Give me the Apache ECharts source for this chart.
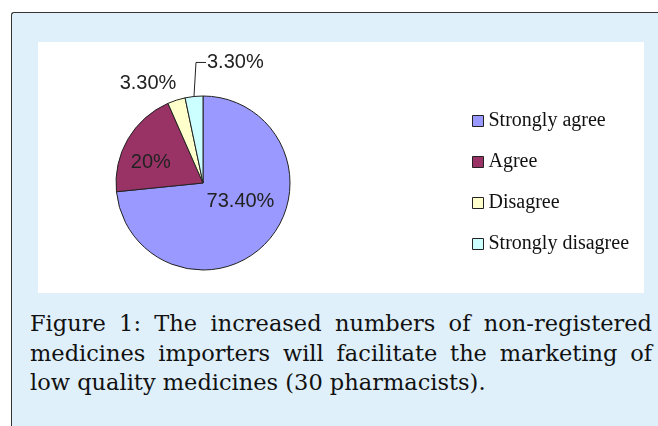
<!DOCTYPE html>
<html>
<head>
<meta charset="utf-8">
<script src="https://cdn.jsdelivr.net/npm/echarts@6/dist/echarts.min.js"></script>
<style>
  html, body { margin: 0; padding: 0; background: #fff; }
  body { width: 658px; height: 426px; position: relative; overflow: hidden; }
  .panel {
    position: absolute; left: 11px; top: 12px; width: 680px; height: 440px;
    background: #dff0fa; border-left: 1px solid #333; border-top: 1px solid #333;
    border-top-left-radius: 3px;
  }
  #chart { position: absolute; left: 38px; top: 42px; width: 606px; height: 251px; background: #fff; }
  .caption {
    position: absolute; left: 30px; top: 309px; width: 622px;
    font-family: "DejaVu Serif", serif; font-size: 22.5px; line-height: 29.5px; color: #111;
  }
  .caption .j { text-align: justify; text-align-last: justify; }
</style>
</head>
<body>
<div class="panel"></div>
<div id="chart"></div>
<div class="caption">
  <div class="j">Figure 1: The increased numbers of non-registered</div>
  <div class="j">medicines importers will facilitate the marketing of</div>
  <div>low quality medicines (30 pharmacists).</div>
</div>
<script>
// chart data
const categories = ['Strongly agree', 'Agree', 'Disagree', 'Strongly disagree'];
const values = [73.4, 20, 3.3, 3.3];
const valueLabels = ['73.40%', '20%', '3.30%', '3.30%'];
const colors = ['#9999ff', '#993366', '#ffffcc', '#ccffff'];

const cx = 165, cy = 141, R = 87;
const total = values.reduce((a, b) => a + b, 0);

// point on the rim at the middle of slice i (angle measured clockwise from 12 o'clock)
function rimPoint(i) {
  let before = 0;
  for (let k = 0; k < i; k++) before += values[k];
  const a = (before + values[i] / 2) / total * Math.PI * 2;
  return [cx + R * Math.sin(a), cy - R * Math.cos(a)];
}

const chart = echarts.init(document.getElementById('chart'));

const data = categories.map((name, i) => ({
  name: name,
  value: values[i],
  itemStyle: { color: colors[i] },
  label: { position: i < 2 ? 'inside' : 'outside' },
  labelLine: { show: i === 3 }
}));

chart.setOption({
  animation: false,
  legend: {
    orient: 'vertical',
    left: 429,
    top: 64,
    itemWidth: 11,
    itemHeight: 11,
    itemGap: 21,
    icon: 'rect',
    selectedMode: false,
    itemStyle: { borderColor: '#222', borderWidth: 1 },
    textStyle: { fontFamily: 'Liberation Serif', fontSize: 20, color: '#111', lineHeight: 20 },
    data: categories
  },
  series: [{
    type: 'pie',
    center: [cx, cy],
    radius: R,
    startAngle: 90,
    clockwise: true,
    avoidLabelOverlap: false,
    itemStyle: { borderColor: '#222', borderWidth: 1 },
    label: {
      show: true,
      fontFamily: 'Liberation Sans',
      fontSize: 20,
      color: '#222',
      formatter: p => valueLabels[p.dataIndex]
    },
    labelLine: { show: true, lineStyle: { color: '#222', width: 1 } },
    labelLayout: function (p) {
      const i = p.dataIndex;
      if (i === 0) return { dx: 3, dy: -13 };
      if (i === 1) return { dx: -12, dy: 3 };
      const pt = rimPoint(i);
      if (i === 2) {
        return { x: pt[0], y: pt[1] - 17, align: 'right', verticalAlign: 'middle' };
      }
      return {
        x: pt[0] + 13, y: pt[1] - 34, align: 'left', verticalAlign: 'middle',
        labelLinePoints: [pt, [pt[0] + 2, pt[1] - 34], [pt[0] + 12, pt[1] - 34]]
      };
    },
    data: data
  }]
});
</script>
</body>
</html>
